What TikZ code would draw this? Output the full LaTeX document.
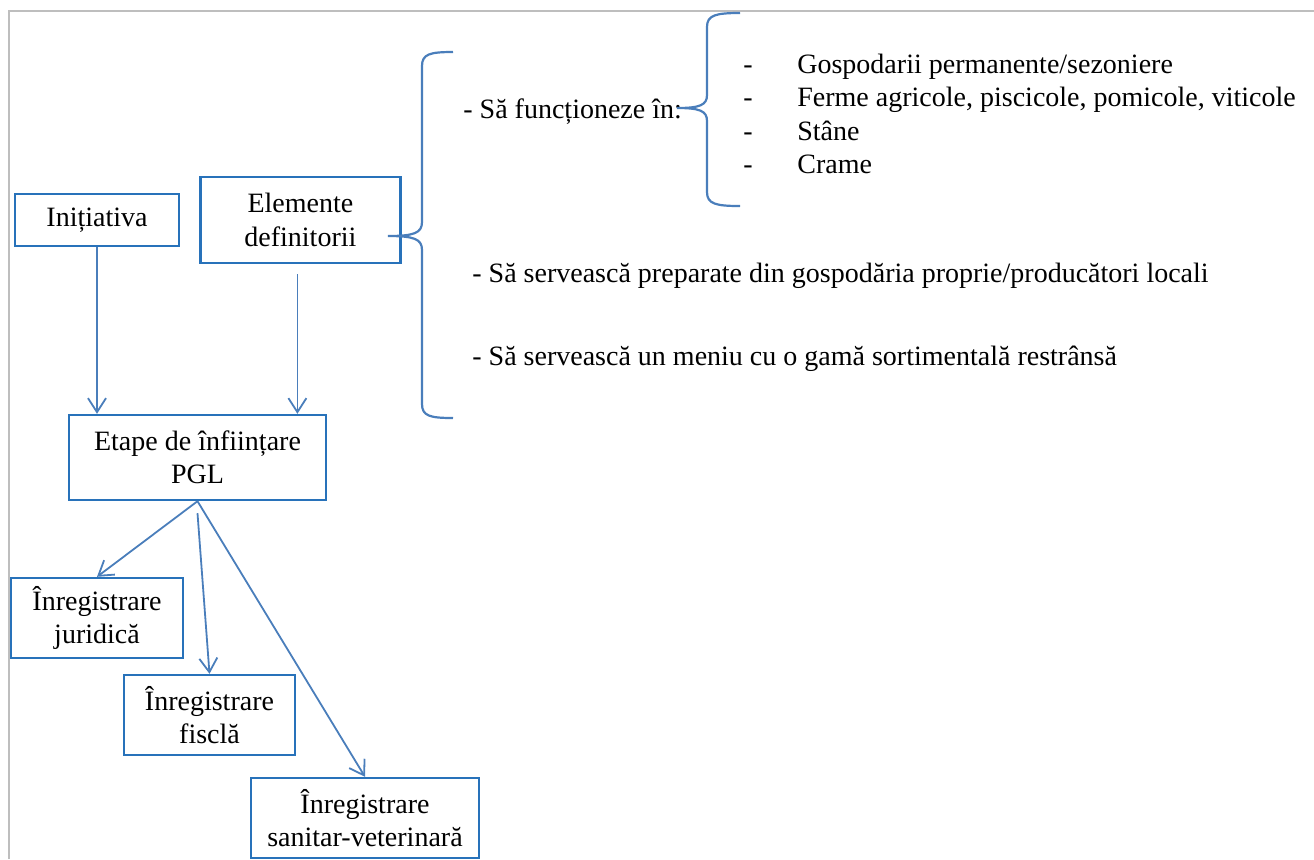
\documentclass[tikz,border=0pt]{standalone}
\usepackage{fontspec}
\setmainfont{Liberation Serif}
\usetikzlibrary{arrows.meta, positioning}

\definecolor{boxblue}{RGB}{40,114,186}
\definecolor{lineblue}{RGB}{74,126,187}
\definecolor{framegray}{RGB}{190,190,190}

\newcommand{\listdash}[1]{\makebox[27pt][l]{-}#1}

\begin{document}
\begin{tikzpicture}[x=0.5pt, y=-0.5pt,
    box/.style={draw=boxblue, line width=1.2pt, align=center, inner sep=2pt,
        font=\fontsize{14pt}{16.75pt}\selectfont},
    txt/.style={anchor=base west, inner sep=0pt, font=\fontsize{14pt}{16.75pt}\selectfont},
    arr/.style={draw=lineblue, line width=0.9pt, -{Straight Barb[length=7pt, width=9pt]}},
    brace/.style={draw=lineblue, line width=1.1pt}]
    \useasboundingbox (0,0) rectangle (1314,859);
    \draw[framegray, line width=1pt] (9,859) -- (9,11) -- (1314,11);

    \node[box, minimum width=82pt, minimum height=26pt] (ini) at (97,220) {Inițiativa};
    \node[box, minimum width=100pt, minimum height=43pt, right=9.5pt of ini] (elem) {Elemente\\definitorii};
    \node[box, minimum width=128.5pt, minimum height=42.5pt] (etape) at (197.5,457.5) {Etape de înființare\\PGL};
    \node[box, minimum width=86pt, minimum height=40pt] (jur) at (97,618) {Înregistrare\\juridică};
    \node[box, minimum width=85.5pt, minimum height=40pt] (fisc) at (209.5,715) {Înregistrare\\fisclă};
    \node[box, minimum width=114pt, minimum height=40pt] (san) at (365,818) {Înregistrare\\sanitar-veterinară};

    \node[txt] (fct) at (463,118) {- Să funcționeze în:};
    \node[txt] (gosp) at (743,73) {\listdash{Gospodarii permanente/sezoniere}};
    \node[txt] (ferme) at (743,106) {\listdash{Ferme agricole, piscicole, pomicole, viticole}};
    \node[txt] (stane) at (743,140) {\listdash{Stâne}};
    \node[txt] (crame) at (743,173) {\listdash{Crame}};
    \node[txt] (prep) at (472,282) {- Să servească preparate din gospodăria proprie/producători locali};
    \node[txt] (meniu) at (472,365) {- Să servească un meniu cu o gamă sortimentală restrânsă};

    % acolade
    \draw[brace] (453,52) .. controls (430,52) and (422,54) .. (422,66) -- (422,222)
        .. controls (422,233) and (414,236) .. (388,236)
        .. controls (414,236) and (422,239) .. (422,250) -- (422,404)
        .. controls (422,416) and (430,418) .. (453,418);
    \draw[brace] (740,13) .. controls (716,13) and (707,15) .. (707,27) -- (707,95)
        .. controls (707,105) and (700,108) .. (677,108)
        .. controls (700,108) and (707,111) .. (707,121) -- (707,192)
        .. controls (707,204) and (716,206) .. (740,206);

    \coordinate (elemout) at ([xshift=-1.5pt, yshift=-5pt]elem.south);
    \draw[arr] (ini.south) -- (ini.south |- etape.north);
    \draw[arr] (elemout) -- (elemout |- etape.north);
    \draw[arr] (etape.south) -- (jur.north);
    \draw[arr] ([yshift=-6pt]etape.south) -- (fisc.north);
    \draw[arr] (etape.south) -- (san.north);
\end{tikzpicture}
\end{document}
